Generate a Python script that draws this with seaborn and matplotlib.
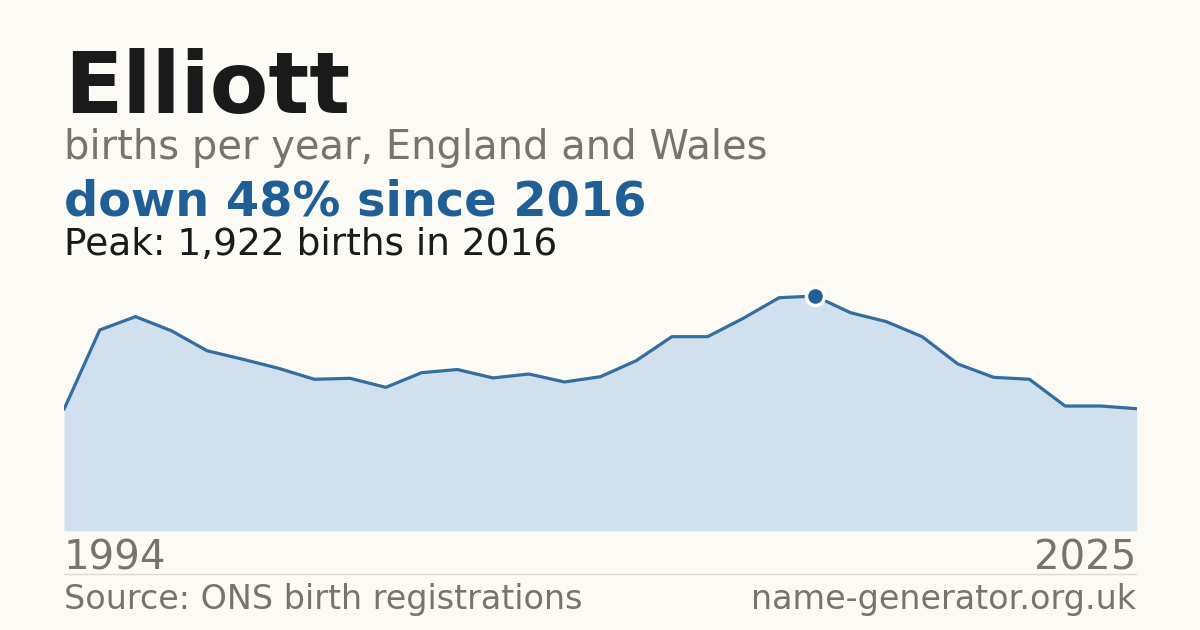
import pandas as pd
import seaborn as sns
from matplotlib import pyplot as plt
from matplotlib.lines import Line2D

# births per year
years = list(range(1995, 2026))
births = [994, 1644, 1753, 1638, 1474, 1404, 1330, 1240, 1248, 1174,
          1294, 1320, 1251, 1283, 1218, 1261, 1392, 1589, 1589, 1740,
          1908, 1922, 1785, 1712, 1589, 1365, 1256, 1240, 1021, 1021, 999]
end_labels = ["1994", "2025"]

peak_year = 2016
peak_value = 1922

bg = "#fbfaf5"
blue = "#1f5f96"
fill = "#d0e0ef"
grey = "#78736c"
dark = "#1a1a1a"

df = pd.DataFrame({"year": years, "births": births})

sns.set_theme(style="white")
plt.rcParams["font.family"] = ["DejaVu Sans"]

W, H = 1200, 630
fig = plt.figure(figsize=(12, 6.3), dpi=100, facecolor=bg)


def fx(px):
    return px / W


def fy(py):
    return 1 - py / H


# plot box in pixels: left 64, right 1136.7, top 280, bottom 530.7
ax = fig.add_axes([fx(64), fy(530.7), fx(1136.7) - fx(64), fy(280) - fy(530.7)])
ax.set_facecolor(bg)
ax.fill_between(df["year"], df["births"], 0, color=fill, lw=0)
sns.lineplot(data=df, x="year", y="births", ax=ax, color=blue, lw=2.3, alpha=0.9)
ax.scatter([peak_year], [peak_value], s=170, color=blue, edgecolor="white",
           linewidth=2.5, zorder=5)
ax.set_xlim(years[0], years[-1])
ax.set_ylim(0, peak_value * (530.7 - 280) / (530.7 - 296))
ax.axis("off")

fig.text(fx(64), fy(112.7), "Elliott", fontsize=61.5, fontweight="bold", color=dark, va="baseline")
fig.text(fx(64), fy(159.3), "births per year, England and Wales", fontsize=28.8, color=grey, va="baseline")
fig.text(fx(64), fy(215), "down 48% since 2016", fontsize=34.5, fontweight="bold", color=blue, va="baseline")
fig.text(fx(64), fy(255), f"Peak: {peak_value:,} births in {peak_year}", fontsize=27, color=dark, va="baseline")

fig.text(fx(64), fy(570), end_labels[0], fontsize=29, color=grey, va="baseline")
fig.text(fx(1136), fy(570), end_labels[1], fontsize=29, color=grey, va="baseline", ha="right")
fig.add_artist(Line2D([fx(64), fx(1136)], [fy(574), fy(574)], color="#dddad3", lw=1))
fig.text(fx(64), fy(609), "Source: ONS birth registrations", fontsize=24, color=grey, va="baseline")
fig.text(fx(1136), fy(609), "name-generator.org.uk", fontsize=24, color=grey, va="baseline", ha="right")

fig.savefig("out.png", dpi=100, facecolor=bg)
